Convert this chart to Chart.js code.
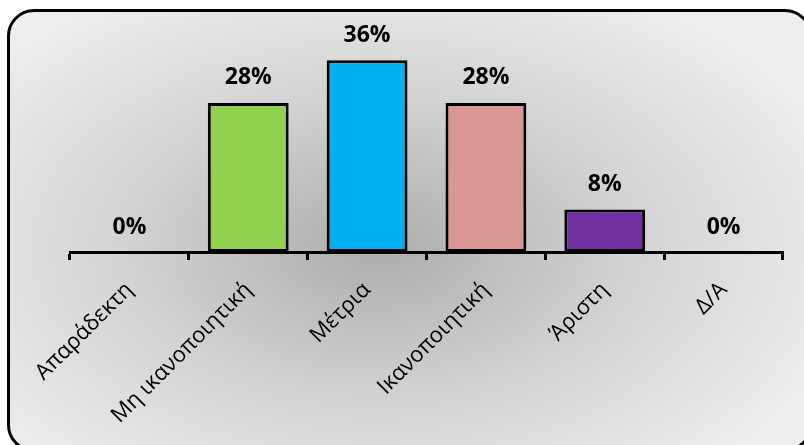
<!DOCTYPE html>
<html>
<head>
<meta charset="utf-8">
<script src="https://cdn.jsdelivr.net/npm/chart.js@4/dist/chart.umd.min.js"></script>
<style>
  html, body { margin: 0; padding: 0; background: #fff; overflow: hidden; }
  #wrap { position: relative; width: 804px; height: 445px; overflow: hidden; }
  #frame {
    position: absolute; left: 7px; top: 9px; width: 805px; height: 443px;
    border: 3px solid #000; border-radius: 27px; box-sizing: border-box;
    background: radial-gradient(ellipse 62% 68% at 46% 54%, #acacac 0%, #d2d2d2 50%, #eeeeee 100%);
  }
  #chart { position: absolute; left: 0; top: 0; }
</style>
</head>
<body>
<div id="wrap">
  <div id="frame"></div>
  <canvas id="chart" width="804" height="445"></canvas>
</div>
<script>
// Ratings distribution (percent of responses)
const categories = ['Απαράδεκτη', 'Μη ικανοποιητική', 'Μέτρια', 'Ικανοποιητική', 'Άριστη', 'Δ/Α'];
const values = [0, 28, 36, 28, 8, 0];
const barColors = ['#92D050', '#92D050', '#00B0F0', '#DA9694', '#7030A0', '#7030A0'];

const FONT = "'Open Sans', 'DejaVu Sans', sans-serif";

// Draws the "NN%" labels above each bar.
const valueLabels = {
  id: 'valueLabels',
  afterDatasetsDraw(chart) {
    const ctx = chart.ctx;
    const meta = chart.getDatasetMeta(0);
    ctx.save();
    ctx.font = 'bold 23px ' + FONT;
    ctx.fillStyle = '#000';
    ctx.textAlign = 'center';
    ctx.textBaseline = 'middle';
    meta.data.forEach((bar, i) => {
      ctx.fillText(values[i] + '%', bar.x, bar.y - 25);
    });
    ctx.restore();
  },
};

new Chart(document.getElementById('chart'), {
  type: 'bar',
  data: {
    labels: categories,
    datasets: [{
      data: values,
      backgroundColor: barColors,
      borderColor: '#000',
      borderWidth: 3,
      borderSkipped: false,
      categoryPercentage: 1,
      barPercentage: 0.68,
    }],
  },
  options: {
    responsive: false,
    animation: false,
    devicePixelRatio: 1,
    layout: { padding: { left: 70, right: 21, top: 39, bottom: 0 } },
    plugins: { legend: { display: false }, tooltip: { enabled: false } },
    scales: {
      y: { display: false, min: 0, max: 40 },
      x: {
        border: { display: true, color: '#000', width: 3 },
        grid: { display: true, drawOnChartArea: false, drawTicks: true, tickLength: 8, tickWidth: 3, tickColor: '#000', offset: true },
        ticks: {
          autoSkip: false, minRotation: 45, maxRotation: 45, padding: 17,
          color: '#000', font: { family: FONT, size: 22 },
        },
        afterFit(scale) { scale.height = 445 - 252; },
      },
    },
  },
  plugins: [valueLabels],
});
</script>
</body>
</html>
